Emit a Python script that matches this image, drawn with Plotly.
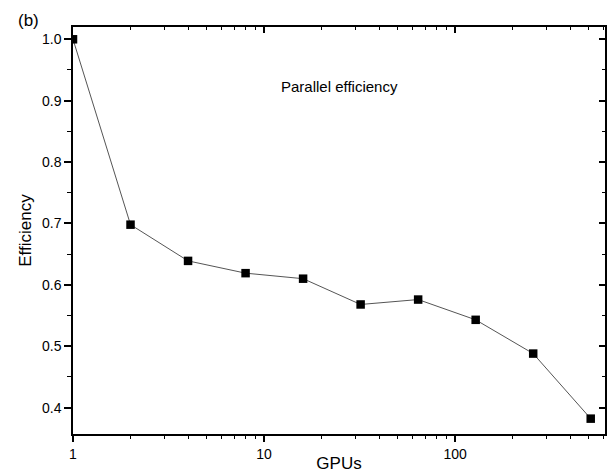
import plotly.graph_objects as go

gpus = [1, 2, 4, 8, 16, 32, 64, 128, 256, 512]
efficiency = [1.0, 0.698, 0.639, 0.619, 0.610, 0.568, 0.576, 0.543, 0.488, 0.382]
x_major = [1, 10, 100]
x_minor = [2, 3, 4, 5, 6, 7, 8, 9, 20, 30, 40, 50, 60, 70, 80, 90, 200, 300, 400, 500, 600]
y_major = [0.4, 0.5, 0.6, 0.7, 0.8, 0.9, 1.0]
y_minor = [0.35, 0.45, 0.55, 0.65, 0.75, 0.85, 0.95]

FONT = "Liberation Sans, Arial, sans-serif"
xr = [0, 2.784]
yr = [0.357, 1.02]

fig = go.Figure()
fig.add_trace(go.Scatter(
    x=gpus, y=efficiency, mode="lines+markers",
    line=dict(color="#555555", width=1),
    marker=dict(symbol="square", size=8.5, color="black"),
    showlegend=False,
))
# invisible trace for top/right mirror axes
fig.add_trace(go.Scatter(x=[gpus[0]], y=[efficiency[0]], xaxis="x2", yaxis="y2",
                         mode="markers", marker=dict(opacity=0), showlegend=False, hoverinfo="skip"))

common = dict(showgrid=False, zeroline=False, showline=True, linecolor="black", linewidth=1.5,
              tickcolor="black", tickwidth=1.5, automargin=False)
fig.update_layout(
    width=608, height=473,
    margin=dict(l=73, r=3, t=27, b=39),
    plot_bgcolor="white", paper_bgcolor="white",
    font=dict(family=FONT, size=14, color="black"),
    xaxis=dict(type="log", range=xr, tickmode="array", tickvals=x_major,
               ticktext=[str(v) for v in x_major], ticks="outside", ticklen=6,
               minor=dict(tickmode="array", tickvals=x_minor, ticks="outside", ticklen=3.5,
                          tickcolor="black", tickwidth=1),
               title=dict(text="GPUs", font=dict(size=17), standoff=3),
               tickfont=dict(size=14), **common),
    yaxis=dict(range=yr, tickmode="array", tickvals=y_major,
               ticktext=["%.1f" % v for v in y_major], ticks="outside", ticklen=7,
               minor=dict(tickmode="array", tickvals=y_minor, ticks="outside", ticklen=4,
                          tickcolor="black", tickwidth=1),
               title=dict(text="Efficiency", font=dict(size=17), standoff=6),
               tickfont=dict(size=14), **common),
    xaxis2=dict(type="log", range=xr, overlaying="x", side="top", anchor="y",
                tickmode="array", tickvals=x_major, ticks="inside", ticklen=6,
                showticklabels=False,
                minor=dict(tickmode="array", tickvals=x_minor, ticks="inside", ticklen=3.5,
                           tickcolor="black", tickwidth=1),
                **common),
    yaxis2=dict(range=yr, overlaying="y", side="right", anchor="x",
                tickmode="array", tickvals=y_major, ticks="inside", ticklen=6,
                showticklabels=False,
                minor=dict(tickmode="array", tickvals=y_minor, ticks="inside", ticklen=3.5,
                           tickcolor="black", tickwidth=1),
                **common),
    annotations=[
        dict(text="(b)", xref="paper", yref="paper", x=-0.107, y=1.017,
             xanchor="left", yanchor="middle", showarrow=False, font=dict(size=17)),
        dict(text="Parallel efficiency", xref="paper", yref="paper", x=0.5, y=0.855,
             xanchor="center", yanchor="middle", showarrow=False, font=dict(size=15)),
    ],
)
fig.write_html("out.html")
